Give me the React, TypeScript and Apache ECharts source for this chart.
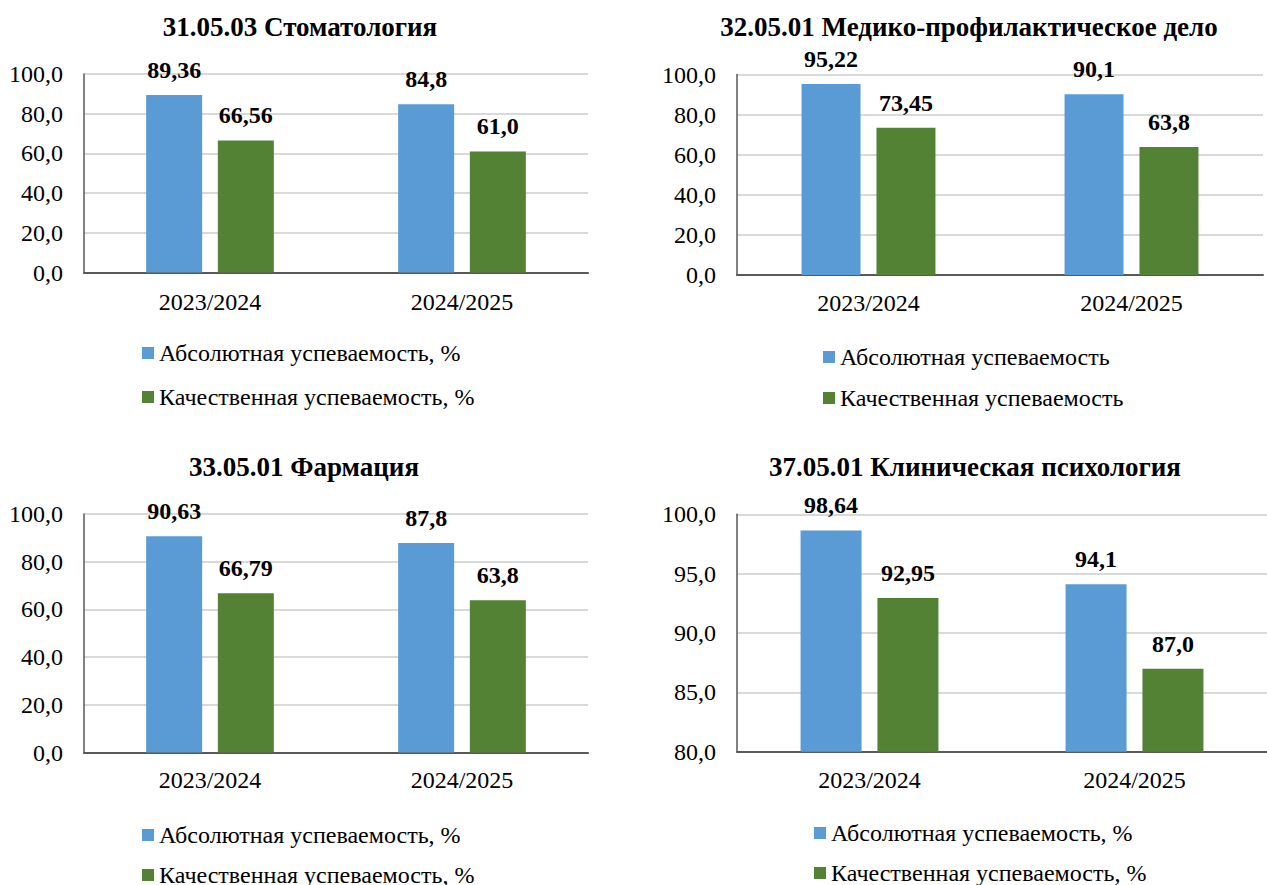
import React, { useEffect, useRef } from "react";
import * as echarts from "echarts";

const categories = ["2023/2024", "2024/2025"];

const titles = [
  "31.05.03 Стоматология",
  "32.05.01 Медико-профилактическое дело",
  "33.05.01 Фармация",
  "37.05.01 Клиническая психология",
];

const absNamePct = "Абсолютная успеваемость, %";
const qualNamePct = "Качественная успеваемость, %";
const absName = "Абсолютная успеваемость";
const qualName = "Качественная успеваемость";

const stomAbs = [89.36, 84.8];
const stomQual = [66.56, 61.0];
const medAbs = [95.22, 90.1];
const medQual = [73.45, 63.8];
const pharmAbs = [90.63, 87.8];
const pharmQual = [66.79, 63.8];
const psyAbs = [98.64, 94.1];
const psyQual = [92.95, 87.0];

const FONT = "Liberation Serif";
const BLUE = "#5B9BD5";
const GREEN = "#548235";

function fmtLabel(v: number): string {
  let s = String(v);
  if (s.indexOf(".") < 0) s += ".0";
  return s.replace(".", ",");
}

const regular = { fontFamily: FONT, fontSize: 24, fontWeight: "normal", fontStyle: "normal", color: "#000" };

export default function App() {
  const ref = useRef<HTMLDivElement>(null);
  useEffect(() => {
    if (!ref.current) return;
    const chart = echarts.init(ref.current, null, { renderer: "svg" });

    const panels = [
      { grid: { left: 84, top: 74, width: 504, height: 198.5 }, min: 0, max: 100, interval: 20, names: [absNamePct, qualNamePct], data: [stomAbs, stomQual], barWidth: 56, barGap: "28%", catMargin: 17, title: { x: 300, y: 13 }, legend: { left: 142, top: 341, gap: 20 } },
      { grid: { left: 737, top: 74.5, width: 526, height: 200.5 }, min: 0, max: 100, interval: 20, names: [absName, qualName], data: [medAbs, medQual], barWidth: 59, barGap: "27%", catMargin: 16, title: { x: 969, y: 13 }, legend: { left: 823, top: 345, gap: 17 } },
      { grid: { left: 84, top: 514, width: 504, height: 238.5 }, min: 0, max: 100, interval: 20, names: [absNamePct, qualNamePct], data: [pharmAbs, pharmQual], barWidth: 56, barGap: "28%", catMargin: 15, title: { x: 304, y: 453 }, legend: { left: 142, top: 823, gap: 16 } },
      { grid: { left: 737, top: 514.3, width: 541, height: 237.5 }, min: 80, max: 100, interval: 5, names: [absNamePct, qualNamePct], data: [psyAbs, psyQual], barWidth: 61, barGap: "26%", catMargin: 16, title: { x: 975, y: 453 }, legend: { left: 814, top: 821, gap: 16 } },
    ];

    const option: any = {
      animation: false,
      backgroundColor: "#ffffff",
      textStyle: { fontFamily: FONT, fontWeight: "normal" },
      title: panels.map((p, i) => ({
        text: titles[i],
        left: p.title.x,
        top: p.title.y,
        textAlign: "center",
        padding: 0,
        textStyle: { fontFamily: FONT, fontWeight: "bold", fontSize: 27, color: "#000" },
      })),
      legend: panels.map((p) => ({
        data: p.names,
        orient: "vertical",
        left: p.legend.left,
        top: p.legend.top,
        height: 150,
        padding: 0,
        itemWidth: 12,
        itemHeight: 12,
        itemGap: p.legend.gap,
        itemTextGap: 6,
        icon: "rect",
        selectedMode: false,
        textStyle: { ...regular },
      })),
      grid: panels.map((p) => ({ ...p.grid, containLabel: false })),
      xAxis: panels.map((p, i) => ({
        type: "category",
        gridIndex: i,
        data: categories,
        axisTick: { show: false },
        axisLine: { show: true, lineStyle: { color: "#595959", width: 2 } },
        axisLabel: { ...regular, margin: p.catMargin },
      })),
      yAxis: panels.map((p, i) => ({
        type: "value",
        gridIndex: i,
        min: p.min,
        max: p.max,
        interval: p.interval,
        axisTick: { show: false },
        axisLine: { show: true, lineStyle: { color: "#595959", width: 1.5 } },
        splitLine: { show: true, lineStyle: { color: "#D9D9D9", width: 2 } },
        axisLabel: {
          ...regular,
          margin: 21,
          formatter: (v: number) => v.toFixed(1).replace(".", ","),
        },
      })),
      series: panels.flatMap((p, i) =>
        [0, 1].map((k) => ({
          type: "bar",
          name: p.names[k],
          xAxisIndex: i,
          yAxisIndex: i,
          data: p.data[k],
          barWidth: p.barWidth,
          barGap: p.barGap,
          itemStyle: { color: k === 0 ? BLUE : GREEN },
          label: {
            show: true,
            position: "top",
            distance: 13,
            fontFamily: FONT,
            fontWeight: "bold",
            fontSize: 24,
            color: "#000",
            formatter: (d: any) => fmtLabel(d.value),
          },
        }))
      ),
    };

    chart.setOption(option);
    return () => chart.dispose();
  }, []);

  return (
    <div
      ref={ref}
      style={{ position: "fixed", left: 0, top: 0, width: 1267, height: 885, background: "#fff" }}
    />
  );
}
